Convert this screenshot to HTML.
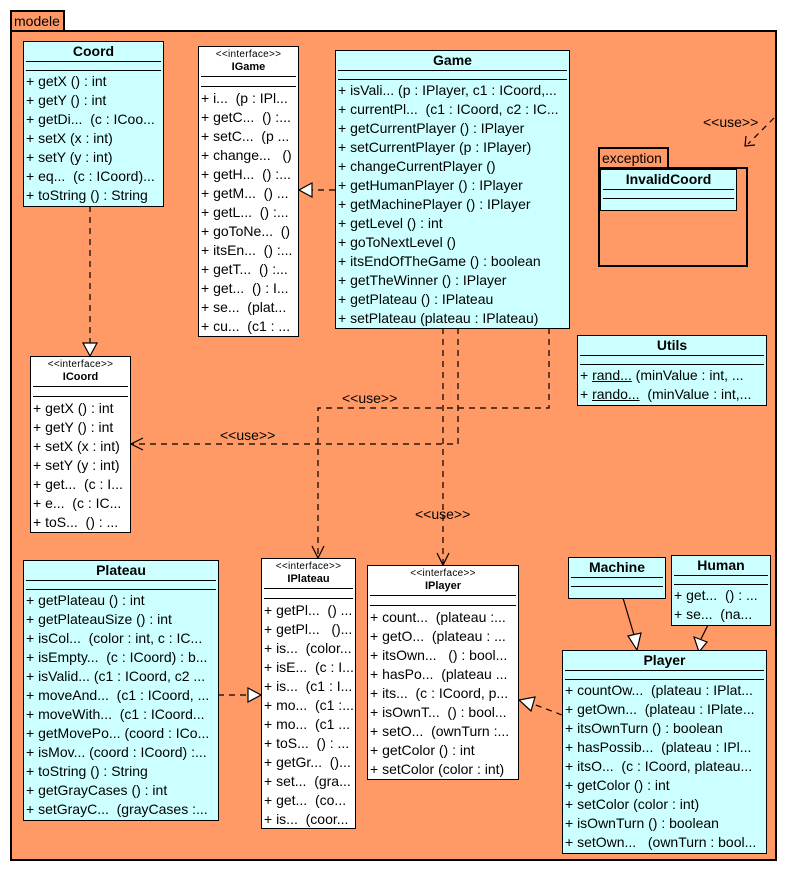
<!DOCTYPE html>
<html><head><meta charset="utf-8"><style>
html,body{margin:0;padding:0;background:#fff;width:787px;height:872px;overflow:hidden;position:relative;font-family:"Liberation Sans","DejaVu Sans",sans-serif;color:#000}
.pk{position:absolute;background:#FF9966;border:2px solid #000;box-sizing:border-box}
.tab{position:absolute;background:#FF9966;border:2px solid #000;border-bottom:none;box-sizing:border-box;font-size:14px;line-height:19px;padding-left:2px}
.b{position:absolute;background:#CCFFFF;border:1px solid #000;box-sizing:border-box;overflow:hidden;z-index:2}
.i{background:#fff}
.t{text-align:center;font-weight:bold;font-size:14px;height:19px;line-height:19px;border-bottom:1px solid #000;margin:0 2px}
.it{text-align:center;height:29px;border-bottom:1px solid #000;margin:0 2px}
.st{font-size:10px;line-height:12px;padding-top:2px;letter-spacing:.3px}
.nm{font-size:11px;font-weight:bold;line-height:13px}
.g{height:8px;border-bottom:1px solid #000;margin:0 2px}
.gi{height:9px;border-bottom:1px solid #000;margin:0 2px}
.r{font-size:14px;line-height:19px;white-space:pre;padding-left:2px}
.p1{padding-top:1px}.p2{padding-top:2px}
u{text-decoration:underline}
svg{position:absolute;left:0;top:0;z-index:1}
.lbl{font-family:"Liberation Sans","DejaVu Sans",sans-serif;font-size:14px}
</style></head><body>
<div class="tab" style="left:10px;top:10px;width:55px;height:22px">modele</div>
<div class="pk" style="left:10px;top:30px;width:767px;height:831px"></div>

<svg width="787" height="872">
<g fill="none" stroke="#000" stroke-width="1.2" stroke-dasharray="6,5">
<path d="M90 206 V343"/>
<path d="M335 190 H312"/>
<path d="M443 328 V563"/>
<path d="M458 328 V444 H133"/>
<path d="M549 328 V408 H318 V556"/>
<path d="M218 695 H248"/>
<path d="M562 715 L533 704"/>
<path d="M774 118 L748 144"/>
</g>
<g fill="#fff" stroke="#000" stroke-width="1.2">
<path d="M83 343 L97 343 L90 356 Z"/>
<path d="M312 183 L312 197 L299 190 Z"/>
<path d="M248 688 L248 702 L261 695 Z"/>
<path d="M535 697 L531 711 L519 700 Z"/>
<path d="M628 636 L641 633 L637 650 Z"/>
<path d="M694 637 L707 642 L699 652 Z"/>
</g>
<g fill="none" stroke="#000" stroke-width="1.2">
<path d="M437 553 L443 565 L449 553"/>
<path d="M312 546 L318 558 L324 546"/>
<path d="M143 438 L131 444 L143 450"/>
<path d="M746 136 L745 146 L755 145"/>
<path d="M623 598 L634 635"/>
<path d="M708 625 L701 639"/>
</g>
<text class="lbl" x="342" y="403">&lt;&lt;use&gt;&gt;</text>
<text class="lbl" x="220" y="440">&lt;&lt;use&gt;&gt;</text>
<text class="lbl" x="415" y="519">&lt;&lt;use&gt;&gt;</text>
<text class="lbl" x="703" y="127">&lt;&lt;use&gt;&gt;</text>
</svg>

<div class="b" style="left:23px;top:41px;width:141px;height:166px">
<div class="t">Coord</div><div class="g"></div><div class="p1">
<div class="r">+ getX () : int</div><div class="r">+ getY () : int</div><div class="r">+ getDi...  (c : ICoo...</div><div class="r">+ setX (x : int)</div><div class="r">+ setY (y : int)</div><div class="r">+ eq...  (c : ICoord)...</div><div class="r">+ toString () : String</div></div></div>

<div class="b i" style="left:198px;top:46px;width:101px;height:291px">
<div class="it"><div class="st">&lt;&lt;interface&gt;&gt;</div><div class="nm">IGame</div></div><div class="gi"></div><div class="p2">
<div class="r">+ i...  (p : IPl...</div><div class="r">+ getC...  () :...</div><div class="r">+ setC...  (p ...</div><div class="r">+ change...   ()</div><div class="r">+ getH...  () :...</div><div class="r">+ getM...  () ...</div><div class="r">+ getL...  () :...</div><div class="r">+ goToNe...  ()</div><div class="r">+ itsEn...  () :...</div><div class="r">+ getT...  () :...</div><div class="r">+ get...  () : I...</div><div class="r">+ se...  (plat...</div><div class="r">+ cu...  (c1 : ...</div></div></div>

<div class="b" style="left:335px;top:50px;width:235px;height:279px">
<div class="t">Game</div><div class="g"></div><div class="p1">
<div class="r">+ isVali... (p : IPlayer, c1 : ICoord,...</div><div class="r">+ currentPl...  (c1 : ICoord, c2 : IC...</div><div class="r">+ getCurrentPlayer () : IPlayer</div><div class="r">+ setCurrentPlayer (p : IPlayer)</div><div class="r">+ changeCurrentPlayer ()</div><div class="r">+ getHumanPlayer () : IPlayer</div><div class="r">+ getMachinePlayer () : IPlayer</div><div class="r">+ getLevel () : int</div><div class="r">+ goToNextLevel ()</div><div class="r">+ itsEndOfTheGame () : boolean</div><div class="r">+ getTheWinner () : IPlayer</div><div class="r">+ getPlateau () : IPlateau</div><div class="r">+ setPlateau (plateau : IPlateau)</div></div></div>

<div class="tab" style="left:598px;top:147px;width:71px;height:22px">exception</div>
<div class="pk" style="left:598px;top:167px;width:150px;height:100px"></div>
<div class="b" style="left:600px;top:169px;width:137px;height:42px">
<div class="t">InvalidCoord</div><div class="g"></div></div>

<div class="b" style="left:577px;top:335px;width:190px;height:71px">
<div class="t">Utils</div><div class="g"></div><div class="p1">
<div class="r">+ <u>rand...</u> (minValue : int, ...</div><div class="r">+ <u>rando...</u>  (minValue : int,...</div></div></div>

<div class="b i" style="left:30px;top:356px;width:101px;height:177px">
<div class="it"><div class="st">&lt;&lt;interface&gt;&gt;</div><div class="nm">ICoord</div></div><div class="gi"></div><div class="p2">
<div class="r">+ getX () : int</div><div class="r">+ getY () : int</div><div class="r">+ setX (x : int)</div><div class="r">+ setY (y : int)</div><div class="r">+ get...  (c : I...</div><div class="r">+ e...  (c : IC...</div><div class="r">+ toS...  () : ...</div></div></div>

<div class="b" style="left:23px;top:560px;width:196px;height:261px">
<div class="t">Plateau</div><div class="g"></div><div class="p1">
<div class="r">+ getPlateau () : int</div><div class="r">+ getPlateauSize () : int</div><div class="r">+ isCol...  (color : int, c : IC...</div><div class="r">+ isEmpty...  (c : ICoord) : b...</div><div class="r">+ isValid... (c1 : ICoord, c2 ...</div><div class="r">+ moveAnd...  (c1 : ICoord, ...</div><div class="r">+ moveWith...  (c1 : ICoord...</div><div class="r">+ getMovePo... (coord : ICo...</div><div class="r">+ isMov... (coord : ICoord) :...</div><div class="r">+ toString () : String</div><div class="r">+ getGrayCases () : int</div><div class="r">+ setGrayC...  (grayCases :...</div></div></div>

<div class="b i" style="left:261px;top:558px;width:95px;height:271px">
<div class="it"><div class="st">&lt;&lt;interface&gt;&gt;</div><div class="nm">IPlateau</div></div><div class="gi"></div><div class="p2">
<div class="r">+ getPl...  () ...</div><div class="r">+ getPl...   ()...</div><div class="r">+ is...  (color...</div><div class="r">+ isE...  (c : I...</div><div class="r">+ is...  (c1 : I...</div><div class="r">+ mo...  (c1 :...</div><div class="r">+ mo...  (c1 ...</div><div class="r">+ toS...  () : ...</div><div class="r">+ getGr...  ()...</div><div class="r">+ set...  (gra...</div><div class="r">+ get...  (co...</div><div class="r">+ is...  (coor...</div></div></div>

<div class="b i" style="left:367px;top:565px;width:152px;height:215px">
<div class="it"><div class="st">&lt;&lt;interface&gt;&gt;</div><div class="nm">IPlayer</div></div><div class="gi"></div><div class="p2">
<div class="r">+ count...  (plateau :...</div><div class="r">+ getO...  (plateau : ...</div><div class="r">+ itsOwn...   () : bool...</div><div class="r">+ hasPo...  (plateau ...</div><div class="r">+ its...  (c : ICoord, p...</div><div class="r">+ isOwnT...  () : bool...</div><div class="r">+ setO...  (ownTurn :...</div><div class="r">+ getColor () : int</div><div class="r">+ setColor (color : int)</div></div></div>

<div class="b" style="left:568px;top:557px;width:98px;height:42px">
<div class="t">Machine</div><div class="g"></div></div>

<div class="b" style="left:671px;top:555px;width:100px;height:71px">
<div class="t">Human</div><div class="g"></div><div class="p1">
<div class="r">+ get...  () : ...</div><div class="r">+ se...  (na...</div></div></div>

<div class="b" style="left:562px;top:650px;width:205px;height:204px">
<div class="t">Player</div><div class="g"></div><div class="p1">
<div class="r">+ countOw...  (plateau : IPlat...</div><div class="r">+ getOwn...  (plateau : IPlate...</div><div class="r">+ itsOwnTurn () : boolean</div><div class="r">+ hasPossib...  (plateau : IPl...</div><div class="r">+ itsO...  (c : ICoord, plateau...</div><div class="r">+ getColor () : int</div><div class="r">+ setColor (color : int)</div><div class="r">+ isOwnTurn () : boolean</div><div class="r">+ setOwn...   (ownTurn : bool...</div></div></div>
</body></html>
